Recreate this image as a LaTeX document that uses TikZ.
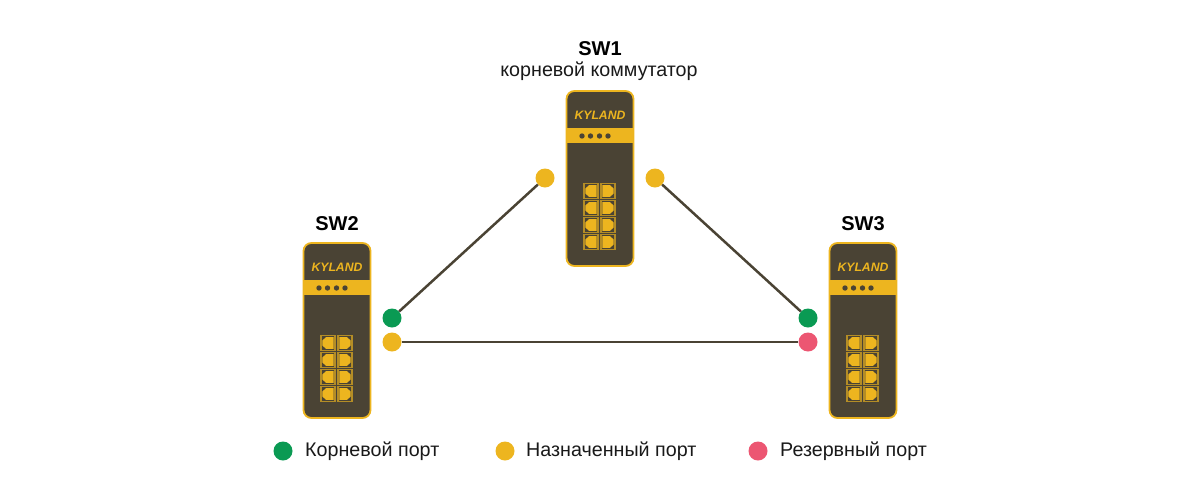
\documentclass[tikz,border=0pt]{standalone}
\usepackage{fontspec}
\setmainfont{Liberation Sans}
\definecolor{body}{HTML}{4A4334}
\definecolor{amber}{HTML}{EDB51F}
\definecolor{rootgreen}{HTML}{0A9A53}
\definecolor{backup}{HTML}{EC5672}
\tikzset{
  x=1pt,y=-1pt,
  lbl/.style={inner sep=0pt,font=\fontsize{19.7}{22}\selectfont,text=black!90},
  title/.style={inner sep=0pt,font=\fontsize{20}{22}\selectfont\bfseries,text=black},
  portdot/.style={circle,fill=#1,draw=none,minimum size=19pt,inner sep=0pt},
  link/.style={draw=body,line width=2.5pt},
  pics/switchbox/.style={code={
    \draw[draw=amber,fill=body,line width=1.8pt,rounded corners=8pt] (0,0) rectangle (67,175);
    \fill[amber] (0,37) rectangle (67,52);
    \node[inner sep=0pt,text=amber,font=\fontsize{12.2}{13}\selectfont\bfseries\itshape] at (33.5,24.5) {KYLAND};
    \foreach \dx in {15.5,24,33,41.5} \fill[body] (\dx,45) circle (2.7pt);
    \foreach \ry in {100,117,134,151} {
      \foreach \cx/\sgn in {24.5/-1,41.5/1} {
        \draw[draw=amber!65!body,line width=1.3pt] (\cx-7,\ry-7.2) rectangle (\cx+7,\ry+7.2);
        \fill[amber] (\cx-\sgn*5.6,\ry-5.8) -- (\cx+\sgn*2,\ry-5.8) -- (\cx+\sgn*5.6,\ry-2.6) -- (\cx+\sgn*5.6,\ry+2.6) -- (\cx+\sgn*2,\ry+5.8) -- (\cx-\sgn*5.6,\ry+5.8) -- cycle;
      }
    }
  }},
}
\begin{document}
\begin{tikzpicture}
\useasboundingbox (0,0) rectangle (1200,501);
\pic at (566.5,91) {switchbox};
\pic at (303.5,243) {switchbox};
\pic at (829.5,243) {switchbox};
\node[title] (t1) at (600,49) {SW1};
\node[lbl] (t1b) at (599,71) {корневой коммутатор};
\node[title] (t2) at (337,224) {SW2};
\node[title] (t3) at (863,224) {SW3};
\node[portdot=amber] (a) at (545,178) {};
\node[portdot=amber] (b) at (655,178) {};
\node[portdot=rootgreen] (c) at (392,318) {};
\node[portdot=amber] (d) at (392,342) {};
\node[portdot=rootgreen] (e) at (808,318) {};
\node[portdot=backup] (f) at (808,342) {};
\draw[link] (a) -- (c);
\draw[link] (b) -- (e);
\draw[link] (d) -- (f);
\node[portdot=rootgreen] (l1) at (283,451) {};
\node[portdot=amber] (l2) at (505,451) {};
\node[portdot=backup] (l3) at (758,451) {};
\node[lbl,anchor=west] (x1) at (305,451) {Корневой порт};
\node[lbl,anchor=west] (x2) at (526,451) {Назначенный порт};
\node[lbl,anchor=west] (x3) at (780,451) {Резервный порт};
\end{tikzpicture}
\end{document}
